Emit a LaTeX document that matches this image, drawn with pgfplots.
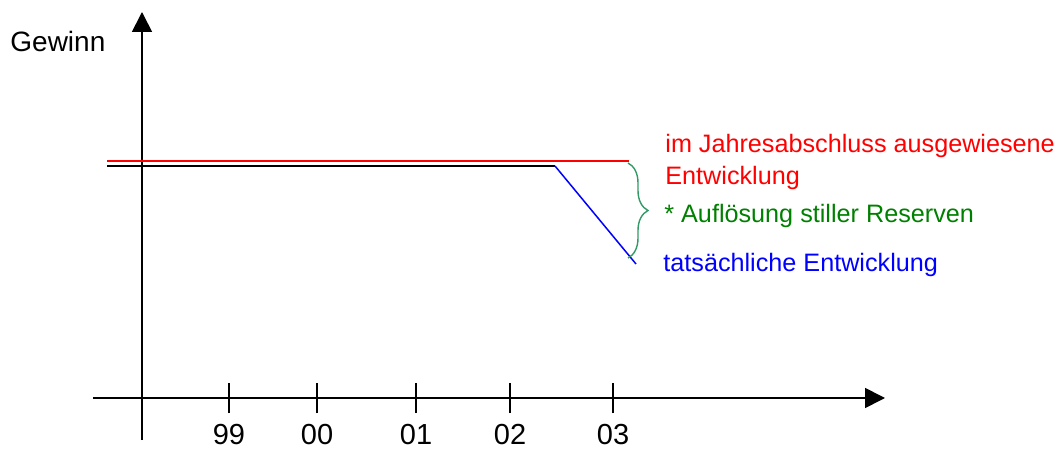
\documentclass[border=0pt]{standalone}
\usepackage{fontspec}
\setmainfont{Liberation Sans}
\usepackage{pgfplots}
\pgfplotsset{compat=1.18}
\usetikzlibrary{arrows.meta,decorations.pathreplacing}
\definecolor{bracegreen}{RGB}{51,153,102}
\definecolor{txtgreen}{RGB}{0,128,0}
\begin{document}
\begin{tikzpicture}
\useasboundingbox (0,0) rectangle (530.5bp,224.5bp);
\begin{axis}[
  at={(71bp,25.5bp)}, anchor=origin,
  scale only axis, width=396bp, height=214bp,
  xmin=-49, xmax=743, ymin=-42, ymax=386,
  axis lines=middle,
  axis line style={line width=0.85bp, -{Triangle[length=10bp,width=10bp]}},
  xtick={87,175,274,368,471},
  xticklabels={\mbox{99},\mbox{00},\mbox{01},\mbox{02},\mbox{03}},
  ytick=\empty,
  major tick length=15bp,
  tick align=center,
  tick style={black, line width=0.7bp},
  xticklabel style={font=\fontsize{14.5bp}{16bp}\selectfont, anchor=base, inner sep=0pt, yshift=-15.5bp},
  clip=false,
]
\addplot[red, line width=1bp] coordinates {(-35,237) (487,237)};
\addplot[black, line width=1bp] coordinates {(-35,232) (413,232)};
\addplot[blue, line width=0.75bp] coordinates {(413,232) (494,134)};
\draw[bracegreen, line width=0.7bp, decorate, decoration={brace, amplitude=10bp}] (axis cs:486,235) -- (axis cs:486,140);
\node[anchor=base west, inner sep=0pt, font=\fontsize{14bp}{16bp}\selectfont] at (axis cs:-132,346) {Gewinn};
\node[anchor=base west, inner sep=0pt, red, font=\fontsize{12.6bp}{15bp}\selectfont] at (axis cs:523,245) {im Jahresabschluss ausgewiesene};
\node[anchor=base west, inner sep=0pt, red, font=\fontsize{12.6bp}{15bp}\selectfont] at (axis cs:523,213) {Entwicklung};
\node[anchor=base west, inner sep=0pt, txtgreen, font=\fontsize{12.6bp}{15bp}\selectfont] at (axis cs:522,175) {* Auflösung stiller Reserven};
\node[anchor=base west, inner sep=0pt, blue, font=\fontsize{12.6bp}{15bp}\selectfont] at (axis cs:521,126) {tatsächliche Entwicklung};
\end{axis}
\end{tikzpicture}
\end{document}
